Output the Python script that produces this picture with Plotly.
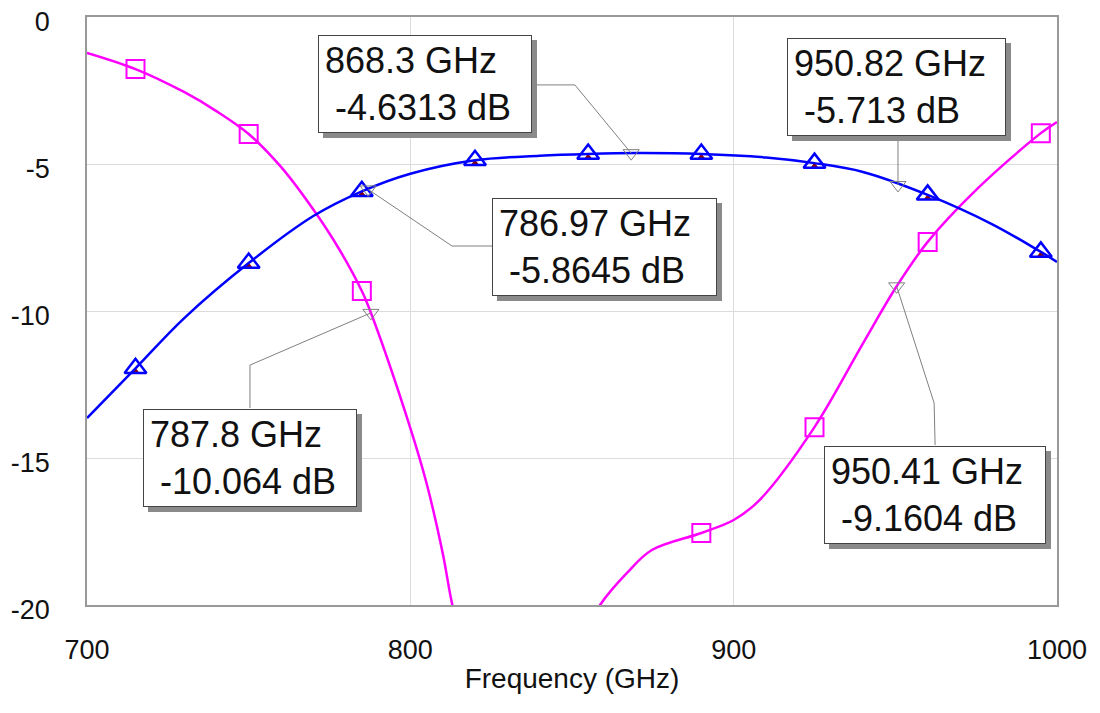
import plotly.graph_objects as go

# S21 (blue) curve
s21_freq = [700, 715, 730, 750, 770, 785, 800, 820, 840, 855, 870, 890, 910, 925, 940, 960, 980, 995, 1000]
s21_db = [-13.64, -11.95, -10.25, -8.37, -6.77, -5.93, -5.33, -4.87, -4.72, -4.66, -4.63, -4.66, -4.78, -4.97, -5.27, -6.05, -7.05, -7.99, -8.33]

# symbol positions (every 35 GHz)
sym_freq = [715, 750, 785, 820, 855, 890, 925, 960, 995]
s21_sym = [-11.95, -8.37, -5.93, -4.87, -4.66, -4.66, -4.97, -6.05, -7.99]
s12_sym = [-12.05, -8.47, -6.03, -4.97, -4.76, -4.76, -5.07, -6.15, -8.09]

# S11 (magenta), two branches, dips below -20 in the middle
s11a_freq = [700, 715, 730, 740, 750, 760, 770, 778, 785, 787.8, 800, 805, 810, 813, 816]
s11a_db = [-1.22, -1.77, -2.55, -3.2, -3.98, -5.1, -6.55, -7.9, -9.32, -10.06, -13.98, -15.85, -18.23, -20.0, -21.2]
s11b_freq = [856, 858.7, 867, 874.7, 890, 900, 908, 925, 940, 950.41, 960, 975, 995, 1000]
s11b_db = [-20.6, -20.0, -18.91, -18.13, -17.55, -17.11, -16.43, -13.95, -11.1, -9.16, -7.65, -5.88, -3.95, -3.57]
s11_sym_freq = [715, 750, 785, 890, 925, 960, 995]
s11_sym = [-1.77, -3.98, -9.32, -17.55, -13.95, -7.65, -3.95]

# data markers
mk_freq = [868.3, 950.82, 786.97, 787.8, 950.41]
mk_db = [-4.6313, -5.713, -5.8645, -10.064, -9.1604]

x_ticks = [700, 800, 900, 1000]
y_ticks = [0, -5, -10, -15, -20]

FONT = "Liberation Sans, Arial, sans-serif"
fig = go.Figure()

fig.add_trace(go.Scatter(x=s11a_freq, y=s11a_db, mode="lines", line=dict(color="#FF00FF", width=2.5, shape="spline")))
fig.add_trace(go.Scatter(x=s11b_freq, y=s11b_db, mode="lines", line=dict(color="#FF00FF", width=2.5, shape="spline")))
fig.add_trace(go.Scatter(x=s11_sym_freq, y=s11_sym, mode="markers",
                         marker=dict(symbol="square-open", size=18, color="#FF00FF", line=dict(width=2))))
fig.add_trace(go.Scatter(x=sym_freq, y=s12_sym, mode="markers",
                         marker=dict(symbol="triangle-up", size=7, color="#8B0000")))
fig.add_trace(go.Scatter(x=s21_freq, y=s21_db, mode="lines", line=dict(color="#0000FF", width=2.5, shape="spline")))
fig.add_trace(go.Scatter(x=sym_freq, y=s21_sym, mode="markers",
                         marker=dict(symbol="triangle-up-open", size=19, color="#0000FF", line=dict(width=2.5))))

# marker boxes: center (data coords), box width in px, leader path before marker
boxes = [
    (804.5, -2.28, 214, [(837.6, -2.31), (850.9, -2.31)]),
    (950.5, -2.38, 219, [(950.82, -4.05)]),
    (860.2, -7.82, 225, [(826.2, -7.79), (812.9, -7.79)]),
    (750.4, -15.0, 214, [(750.4, -13.3), (750.4, -11.84)]),
    (962.3, -16.26, 222, [(962.3, -14.56), (962.0, -13.13)]),
]
for (cx, cy, w, path), f, d in zip(boxes, mk_freq, mk_db):
    xs = [p[0] for p in path] + [f]
    ys = [p[1] for p in path] + [d]
    fig.add_trace(go.Scatter(x=xs, y=ys, mode="lines", line=dict(color="#808080", width=1)))

fig.add_trace(go.Scatter(x=mk_freq, y=mk_db, mode="markers",
                         marker=dict(symbol="triangle-down-open", size=14, color="#808080", line=dict(width=1))))

for (cx, cy, w, path), f, d in zip(boxes, mk_freq, mk_db):
    txt = f"{f:g} GHz<br>\u00a0{d:g} dB"
    # drop shadow
    fig.add_annotation(x=cx, y=cy, text="\u00a0", showarrow=False, xshift=5, yshift=-5,
                       width=w - 14, height=84,
                       bgcolor="#8a8a8a", bordercolor="#8a8a8a", borderwidth=1, borderpad=6)
    fig.add_annotation(x=cx, y=cy, text=txt, showarrow=False, align="left",
                       width=w - 14, height=84,
                       font=dict(family=FONT, size=36, color="#111111"),
                       bgcolor="white", bordercolor="#444444", borderwidth=1, borderpad=6)

# page body adds an 8px offset, margins compensate for it
fig.update_layout(
    width=1100, height=713,
    margin=dict(l=79, r=51, t=9, b=116),
    plot_bgcolor="white", paper_bgcolor="white",
    showlegend=False,
    font=dict(family=FONT, size=27, color="#111111"),
)
fig.update_xaxes(range=[700, 1000], tickvals=x_ticks, ticktext=[str(v) for v in x_ticks],
                 showgrid=True, gridcolor="#dcdcdc", automargin=False, ticklabeloverflow="allow",
                 showline=True, linecolor="#999999", linewidth=1.5, mirror=True, zeroline=False,
                 ticks="", ticklabelstandoff=20,
                 title=dict(text="Frequency (GHz)", standoff=4, font=dict(size=28)))
fig.update_yaxes(range=[-20, 0], tickvals=y_ticks, ticktext=[str(v) for v in y_ticks],
                 showgrid=True, gridcolor="#dcdcdc", automargin=False, ticklabeloverflow="allow",
                 showline=True, linecolor="#999999", linewidth=1.5, mirror=True, zeroline=False,
                 ticks="", ticklabelstandoff=30, ticklabelshift=5)

fig.write_html("out.html")
